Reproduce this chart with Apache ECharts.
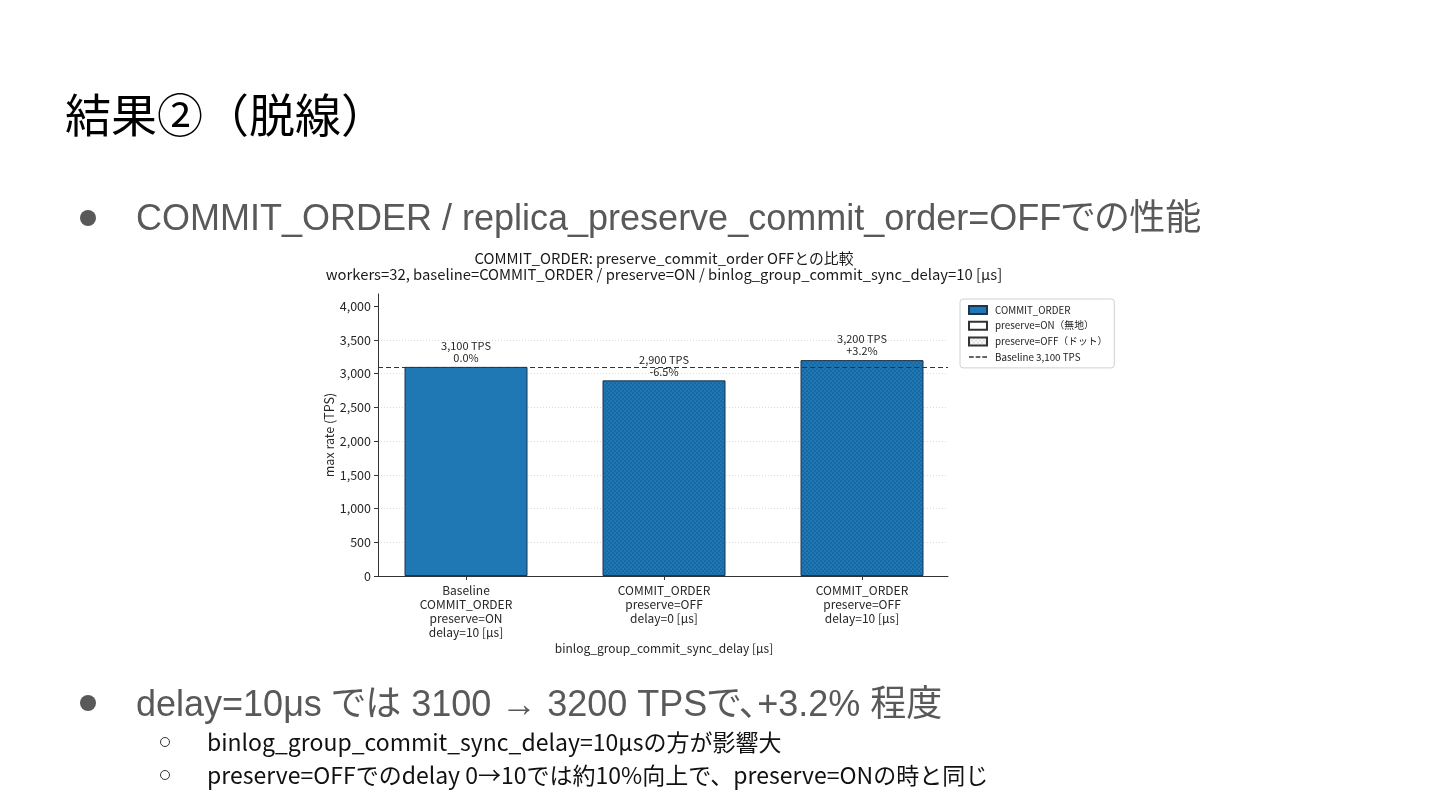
<!DOCTYPE html>
<html><head><meta charset="utf-8">
<script src="https://cdn.jsdelivr.net/npm/echarts@6/dist/echarts.min.js"></script>
<style>
html,body{margin:0;padding:0;background:#fff;width:1440px;height:810px;overflow:hidden;}
#chart{position:absolute;left:0;top:0;width:1440px;height:810px;}
.t{position:absolute;white-space:nowrap;line-height:1;}
.b1{font-family:'Liberation Sans','Noto Sans CJK JP',sans-serif;font-size:36px;color:#595959;font-feature-settings:"palt";}
.b2{font-family:'Noto Sans CJK JP',sans-serif;font-size:23px;color:#111;}
.dot{position:absolute;width:16px;height:16px;border-radius:50%;background:#595959;}
.ring{position:absolute;width:10px;height:10px;border-radius:50%;border:1px solid #333;box-sizing:border-box;}
</style></head><body>
<div id="chart"></div>
<div class="t" style="left:65px;top:89px;font-size:46px;font-family:'Noto Sans CJK JP',sans-serif;color:#000;">結果②（脱線）</div>
<div class="dot" style="left:80px;top:210px;"></div>
<div class="t b1" style="left:136px;top:200px;">COMMIT_ORDER / replica_preserve_commit_order=OFFでの性能</div>
<div class="dot" style="left:80px;top:695px;"></div>
<div class="t b1" style="left:136px;top:686px;">delay=10μs では 3100 → 3200 TPSで、+3.2% 程度</div>
<div class="ring" style="left:160px;top:737px;"></div>
<div class="t b2" style="left:207px;top:730px;">binlog_group_commit_sync_delay=10μsの方が影響大</div>
<div class="ring" style="left:160px;top:770px;"></div>
<div class="t b2" style="left:207px;top:763px;">preserve=OFFでのdelay 0→10では約10%向上で、preserve=ONの時と同じ</div>
<script>
// ---- data ----
const categories = [
  'Baseline\nCOMMIT_ORDER\npreserve=ON\ndelay=10 [μs]',
  'COMMIT_ORDER\npreserve=OFF\ndelay=0 [μs]',
  'COMMIT_ORDER\npreserve=OFF\ndelay=10 [μs]'
];
const tpsValues = [3100, 2900, 3200];
const pctLabels = ['0.0%', '-6.5%', '+3.2%'];
const dottedFlags = [false, true, true];
const baselineValue = 3100;
const yTicks = [0, 500, 1000, 1500, 2000, 2500, 3000, 3500, 4000];
const yMax = 4180;
const legendNames = ['COMMIT_ORDER', 'preserve=ON（無地）', 'preserve=OFF（ドット）', 'Baseline 3,100 TPS'];
const chartTitle = 'COMMIT_ORDER: preserve_commit_order OFFとの比較';
const chartSubtitle = 'workers=32, baseline=COMMIT_ORDER / preserve=ON / binlog_group_commit_sync_delay=10 [μs]';
const xAxisName = 'binlog_group_commit_sync_delay [μs]';
const yAxisName = 'max rate (TPS)';

// ---- styles ----
const FONT = "'Noto Sans CJK JP', sans-serif";
const BLUE = '#1f77b4';
const EDGE = '#1d3550';
function dotPattern(bg, dot) {
  const c = document.createElement('canvas');
  c.width = 4; c.height = 4;
  const g = c.getContext('2d');
  g.fillStyle = bg; g.fillRect(0, 0, 4, 4);
  g.fillStyle = dot;
  g.beginPath(); g.arc(1, 1, 0.6, 0, Math.PI * 2); g.fill();
  g.beginPath(); g.arc(3, 3, 0.6, 0, Math.PI * 2); g.fill();
  return { image: c, repeat: 'repeat' };
}
const bluePattern = dotPattern(BLUE, 'rgba(12,30,60,0.7)');
const whitePattern = dotPattern('#ffffff', 'rgba(40,40,40,0.7)');
const fmt = v => v.toLocaleString('en-US');

const chart = echarts.init(document.getElementById('chart'), null, { renderer: 'canvas' });
chart.setOption({
  backgroundColor: 'transparent',
  textStyle: { fontFamily: FONT },
  title: {
    text: chartTitle + '\n' + chartSubtitle,
    left: 664, top: 250, padding: 0, textAlign: 'center',
    textStyle: { fontFamily: FONT, fontSize: 14.8, fontWeight: 'normal', color: '#1a1a1a', lineHeight: 16.5 }
  },
  legend: {
    orient: 'vertical', left: 960, top: 299,
    padding: [6, 7, 6, 8], itemGap: 5.7, itemWidth: 18, itemHeight: 8,
    backgroundColor: '#fff', borderColor: '#d0d0d0', borderWidth: 1, borderRadius: 3,
    icon: 'rect',
    textStyle: { fontFamily: FONT, fontSize: 9.8, color: '#222', padding: [0, 0, 0, 3] },
    data: [
      { name: legendNames[0] },
      { name: legendNames[1] },
      { name: legendNames[2] },
      { name: legendNames[3], icon: 'path://M0,0h5v1.6h-5z M7,0h5v1.6h-5z M14,0h5v1.6h-5z' }
    ]
  },
  grid: [
    { left: 367, width: 594, top: 294, height: 282, containLabel: false },
    { left: 378, width: 570, top: 294, height: 282, containLabel: false }
  ],
  xAxis: [
    {
      gridIndex: 0, type: 'category', data: categories,
      axisLine: { show: false },
      axisTick: { show: true, alignWithLabel: true, length: 4, lineStyle: { color: '#333' } },
      axisLabel: { interval: 0, fontFamily: FONT, fontSize: 12, lineHeight: 14, color: '#262626', margin: 7 },
      name: xAxisName, nameLocation: 'middle', nameGap: 66,
      nameTextStyle: { fontFamily: FONT, fontSize: 12, color: '#262626' }
    },
    {
      gridIndex: 1, type: 'value', min: 0, max: 1,
      axisLine: { show: true, lineStyle: { color: '#333', width: 1 } },
      axisTick: { show: false }, axisLabel: { show: false }, splitLine: { show: false }
    }
  ],
  yAxis: [
    { gridIndex: 0, type: 'value', min: 0, max: yMax, show: false, splitLine: { show: false } },
    {
      gridIndex: 1, type: 'value', min: 0, max: yMax, interval: 500,
      axisLine: { show: true, lineStyle: { color: '#333', width: 1 } },
      axisTick: { show: true, length: 4, customValues: yTicks, lineStyle: { color: '#333' } },
      axisLabel: { customValues: yTicks, formatter: v => fmt(v), fontFamily: FONT, fontSize: 12.5, color: '#262626', margin: 7 },
      splitLine: { show: true, showMaxLine: false, lineStyle: { color: '#dcdcdc', type: [1, 2], width: 1 } },
      name: yAxisName, nameLocation: 'middle', nameGap: 39, nameRotate: 90,
      nameTextStyle: { fontFamily: FONT, fontSize: 12.5, color: '#262626' }
    }
  ],
  series: [
    {
      name: legendNames[0], type: 'bar', xAxisIndex: 0, yAxisIndex: 0,
      barWidth: 123, barGap: '-100%',
      itemStyle: { color: BLUE, borderColor: EDGE, borderWidth: 1 },
      data: tpsValues.map((v, i) => ({ value: v, itemStyle: { color: dottedFlags[i] ? bluePattern : BLUE } })),
      label: {
        show: true, position: 'top', distance: 3,
        formatter: p => fmt(p.value) + ' TPS\n' + pctLabels[p.dataIndex],
        fontFamily: FONT, fontSize: 11, lineHeight: 12, color: '#262626'
      },
      z: 3
    },
    {
      name: legendNames[1], type: 'bar', xAxisIndex: 0, yAxisIndex: 0,
      barWidth: 123, barGap: '-100%',
      itemStyle: { color: '#ffffff', borderColor: '#333', borderWidth: 1 },
      data: []
    },
    {
      name: legendNames[2], type: 'bar', xAxisIndex: 0, yAxisIndex: 0,
      barWidth: 123, barGap: '-100%',
      itemStyle: { color: whitePattern, borderColor: '#333', borderWidth: 1 },
      data: []
    },
    {
      name: legendNames[3], type: 'line', xAxisIndex: 1, yAxisIndex: 1,
      color: '#333', itemStyle: { color: '#333' }, symbol: 'none',
      lineStyle: { color: '#333', type: [5, 3], width: 1.2 },
      data: [],
      markLine: {
        silent: true, symbol: 'none', label: { show: false },
        lineStyle: { color: '#333', type: [5, 3], width: 1.2 },
        data: [{ yAxis: baselineValue }]
      },
      z: 4
    }
  ]
});
</script>
</body></html>
